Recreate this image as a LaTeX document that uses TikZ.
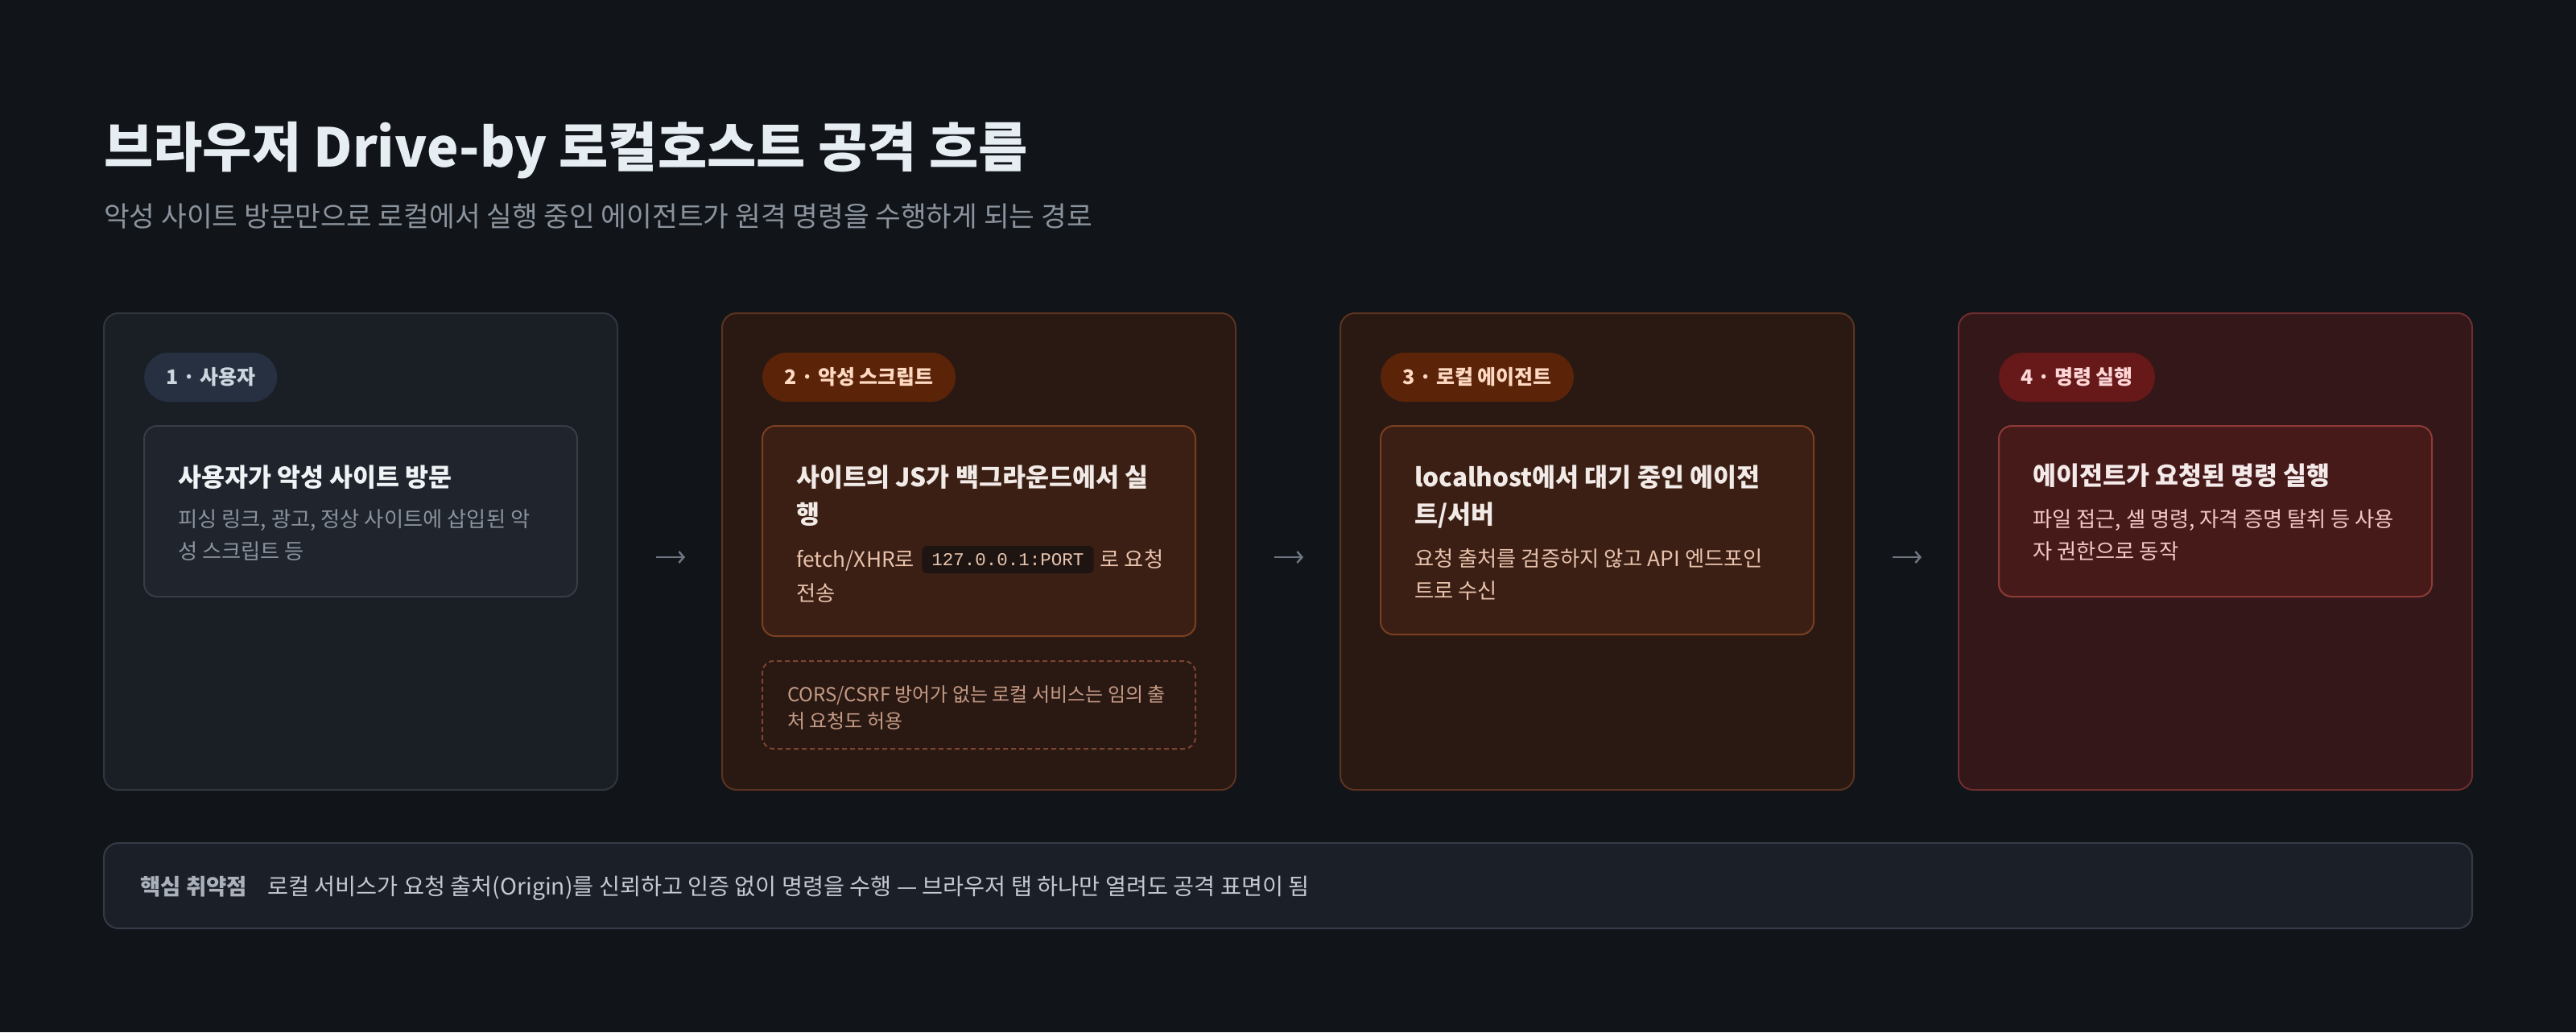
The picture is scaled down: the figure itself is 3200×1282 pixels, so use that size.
\documentclass[tikz,border=0pt]{standalone}
\usepackage{fontspec}
\setmainfont{Noto Sans CJK KR}
\newfontfamily\monofont{Liberation Mono}
\usetikzlibrary{arrows.meta,calc}
\newcommand\fs[1]{\fontsize{#1}{#1}\selectfont}
\definecolor{bgc}{HTML}{111419}
\definecolor{titlec}{HTML}{E6EDF3}
\definecolor{subc}{HTML}{8B949E}
\definecolor{aFill}{HTML}{1A1E25}
\definecolor{aLine}{HTML}{30363F}
\definecolor{aBadge}{HTML}{263041}
\definecolor{aBadgeT}{HTML}{CDD5DF}
\definecolor{aIn}{HTML}{1F242D}
\definecolor{aInLine}{HTML}{373D48}
\definecolor{aTitle}{HTML}{F0F3F6}
\definecolor{aBody}{HTML}{8B949E}
\definecolor{bFill}{HTML}{2A1913}
\definecolor{bLine}{HTML}{5C3321}
\definecolor{bBadge}{HTML}{5B2409}
\definecolor{bBadgeT}{HTML}{FFD9C2}
\definecolor{bIn}{HTML}{3B1F14}
\definecolor{bInLine}{HTML}{7A3F22}
\definecolor{bTitle}{HTML}{F2EAE6}
\definecolor{bBody}{HTML}{E8C2AC}
\definecolor{bDash}{HTML}{7A4530}
\definecolor{bDashT}{HTML}{C49A84}
\definecolor{chipFill}{HTML}{1E1411}
\definecolor{chipT}{HTML}{E8C4AE}
\definecolor{cFill}{HTML}{331719}
\definecolor{cLine}{HTML}{6E2E2E}
\definecolor{cBadge}{HTML}{671819}
\definecolor{cBadgeT}{HTML}{FFD6D6}
\definecolor{cIn}{HTML}{461A19}
\definecolor{cInLine}{HTML}{8E3A36}
\definecolor{cTitle}{HTML}{F4EAEA}
\definecolor{cBody}{HTML}{F2C8C4}
\definecolor{kFill}{HTML}{1B1F27}
\definecolor{kLine}{HTML}{353B46}
\definecolor{kLabel}{HTML}{AAB1BB}
\definecolor{kText}{HTML}{C3C9D1}
\definecolor{arrowc}{HTML}{6E7681}
\tikzset{
  card/.style={rounded corners=18pt, line width=2pt, minimum width=638pt, minimum height=592pt, inner sep=0pt},
  innerbox/.style={rounded corners=16pt, line width=2pt, minimum width=538pt, inner sep=0pt},
  badge/.style={rounded corners=30pt, minimum height=61pt, inner xsep=27pt, inner ysep=0pt, font=\fs{25}\bfseries, anchor=west},
  ttl/.style={anchor=base west, inner sep=0pt, font=\fs{31.5}\bfseries},
  body/.style={anchor=base west, inner sep=0pt, font=\fs{26.3}},
  small/.style={anchor=base west, inner sep=0pt, font=\fs{24}},
  dashbox/.style={rounded corners=14pt, line width=2pt, dash pattern=on 6pt off 4pt, minimum width=538pt, minimum height=109pt, inner sep=0pt},
  chip/.style={rounded corners=6pt, fill=chipFill, text=chipT, inner xsep=12pt, minimum height=34pt, inner ysep=0pt, font=\fs{22.5}\monofont, anchor=west},
  flow/.style={draw=arrowc, line width=2.5pt, -{Straight Barb[length=6pt,width=14pt]}, shorten <=47pt, shorten >=45pt}
}
\begin{document}
\begin{tikzpicture}[x=1pt,y=-1pt]
\useasboundingbox (0,0) rectangle (3200,1282);
\fill[bgc] (0,0) rectangle (3200,1282);

% header
\node[anchor=base west, inner sep=0pt, font=\fs{66.6}\bfseries, text=titlec] (title) at (129,207) {브라우저 Drive-by 로컬호스트 공격 흐름};
\node[anchor=base west, inner sep=0pt, font=\fs{34.5}, text=subc] (sub) at (129,281) {악성 사이트 방문만으로 로컬에서 실행 중인 에이전트가 원격 명령을 수행하게 되는 경로};

% cards
\node[card, fill=aFill, draw=aLine] (c1) at (448,685) {};
\node[card, fill=bFill, draw=bLine] (c2) at (1216,685) {};
\node[card, fill=bFill, draw=bLine] (c3) at (1984,685) {};
\node[card, fill=cFill, draw=cLine] (c4) at (2752,685) {};

% badges
\node[badge, fill=aBadge, text=aBadgeT] (b1) at (179,468.5) {1 · 사용자};
\node[badge, fill=bBadge, text=bBadgeT] (b2) at (947,468.5) {2 · 악성 스크립트};
\node[badge, fill=bBadge, text=bBadgeT] (b3) at (1715,468.5) {3 · 로컬 에이전트};
\node[badge, fill=cBadge, text=cBadgeT] (b4) at (2483,468.5) {4 · 명령 실행};

% inner boxes
\node[innerbox, fill=aIn, draw=aInLine, minimum height=212pt] (i1) at (448,635) {};
\node[innerbox, fill=bIn, draw=bInLine, minimum height=261pt] (i2) at (1216,659.5) {};
\node[innerbox, fill=bIn, draw=bInLine, minimum height=259pt] (i3) at (1984,658.5) {};
\node[innerbox, fill=cIn, draw=cInLine, minimum height=212pt] (i4) at (2752,635) {};

% card 1 text
\node[ttl, text=aTitle] (t1) at (221,604) {사용자가 악성 사이트 방문};
\node[body, text=aBody] (d1a) at (221,654) {피싱 링크, 광고, 정상 사이트에 삽입된 악};
\node[body, text=aBody] (d1b) at (221,694) {성 스크립트 등};

% card 2 text
\node[ttl, text=bTitle] (t2a) at (989,604) {사이트의 JS가 백그라운드에서 실};
\node[ttl, text=bTitle] (t2b) at (989,650) {행};
\coordinate (chipy) at (0,695);
\coordinate (line2y) at (0,704);
\node[body, text=bBody] (d2a) at (989,704) {fetch/XHR로};
\node[chip] (code) at ([xshift=9pt]d2a.east |- chipy) {127.0.0.1:PORT};
\node[body, text=bBody] (d2b) at ([xshift=8pt]code.east |- line2y) {로 요청};
\node[body, text=bBody] (d2c) at (989,746) {전송};

\node[dashbox, fill=bFill, draw=bDash] (dz) at (1216,875.5) {};
\node[small, text=bDashT] (z1) at (978,871) {CORS/CSRF 방어가 없는 로컬 서비스는 임의 출};
\node[small, text=bDashT] (z2) at (978,904) {처 요청도 허용};

% card 3 text
\node[ttl, text=bTitle] (t3a) at (1757,604) {localhost에서 대기 중인 에이전};
\node[ttl, text=bTitle] (t3b) at (1757,650) {트/서버};
\node[body, text=bBody] (d3a) at (1757,703) {요청 출처를 검증하지 않고 API 엔드포인};
\node[body, text=bBody] (d3b) at (1757,743) {트로 수신};

% card 4 text
\node[ttl, text=cTitle] (t4) at (2525,602) {에이전트가 요청된 명령 실행};
\node[body, text=cBody] (d4a) at (2525,654) {파일 접근, 셀 명령, 자격 증명 탈취 등 사용};
\node[body, text=cBody] (d4b) at (2525,694) {자 권한으로 동작};

% arrows
\draw[flow] ([yshift=-7pt]c1.east) -- ([yshift=-7pt]c2.west);
\draw[flow] ([yshift=-7pt]c2.east) -- ([yshift=-7pt]c3.west);
\draw[flow] ([yshift=-7pt]c3.east) -- ([yshift=-7pt]c4.west);

% bottom bar
\node[rounded corners=18pt, line width=2pt, fill=kFill, draw=kLine, minimum width=2942pt, minimum height=106pt, inner sep=0pt] (bar) at (1600,1100) {};
\node[anchor=base west, inner sep=0pt, font=\fs{27.5}\bfseries, text=kLabel] (kl) at (174,1111) {핵심 취약점};
\node[anchor=base west, inner sep=0pt, font=\fs{28.3}, text=kText] (kt) at ([xshift=25pt]kl.base east) {로컬 서비스가 요청 출처(Origin)를 신뢰하고 인증 없이 명령을 수행 — 브라우저 탭 하나만 열려도 공격 표면이 됨};
\end{tikzpicture}
\end{document}
